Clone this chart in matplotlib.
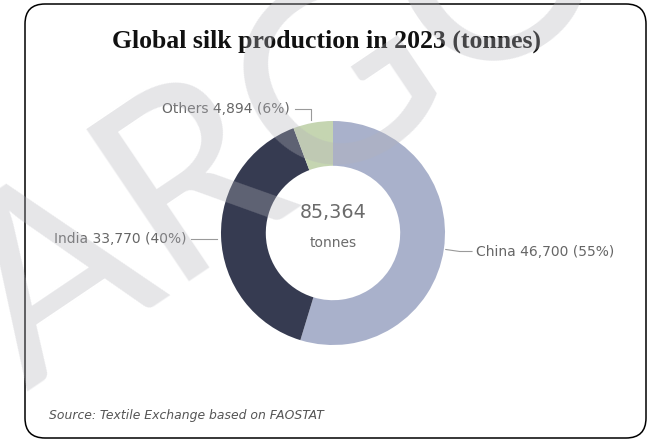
import numpy as np
import matplotlib
matplotlib.use("Agg")
import matplotlib.pyplot as plt
from matplotlib.patches import FancyBboxPatch

W, H = 649, 440

countries = ["China", "India", "Others"]
tonnes = [46700, 33770, 4894]
colors = ["#a9b1cb", "#363b51", "#c5d5b1"]
title = "Global silk production in 2023 (tonnes)"
source = "Source: Textile Exchange based on FAOSTAT"

total = sum(tonnes)
shares = [round(100 * v / total) for v in tonnes]


def py(y):
    # pixel from top -> data y
    return H - y


fig = plt.figure(figsize=(W / 100, H / 100), dpi=100)
fig.patch.set_facecolor("white")
ax = fig.add_axes([0, 0, 1, 1])

cx, cy, R = 333, 233, 112
wedges, _ = ax.pie(tonnes, colors=colors, startangle=90, counterclock=False,
                   radius=R, center=(cx, py(cy)),
                   wedgeprops=dict(width=R * 0.4, linewidth=0))
ax.set_xlim(0, W)
ax.set_ylim(0, H)
ax.set_aspect("equal")
ax.axis("off")

# rounded frame
ax.add_patch(FancyBboxPatch((25 + 20, py(438) + 20), 621 - 40, 434 - 40,
                            boxstyle="round,pad=20", fc="none", ec="black", lw=1.1, zorder=1))

ax.text(326, py(41), title, ha="center", va="center", fontsize=18.5,
        fontweight="bold", family="Liberation Serif", color="#111111")

# labels with leader lines
label_color = "#666666"
line_color = "#9a9a9a"
for w, name, val, pct in zip(wedges, countries, tonnes, shares):
    ang = np.deg2rad((w.theta1 + w.theta2) / 2)
    x0 = cx + R * np.cos(ang)
    y0 = py(cy) + R * np.sin(ang)
    txt = f"{name} {val:,} ({pct}%)"
    if name == "China":
        ax.plot([x0 + 2, x0 + 16, 472], [y0, y0 - 2, y0 - 2], color=line_color, lw=0.8)
        ax.text(476, y0 - 2, txt, ha="left", va="center", fontsize=10, color=label_color)
    elif name == "India":
        ax.plot([x0 - 4, 191], [y0 - 2, y0 - 2], color=line_color, lw=0.8)
        ax.text(187, y0 - 2, txt, ha="right", va="center", fontsize=10, color=label_color)
    else:
        ax.plot([x0 - 2, x0 - 2, 295], [y0 + 3, y0 + 14, y0 + 14], color=line_color, lw=0.8)
        ax.text(290, y0 + 14, txt, ha="right", va="center", fontsize=10, color=label_color)

ax.text(cx, py(212), f"{total:,}", ha="center", va="center", fontsize=13.8, color="#6b6b6b")
ax.text(cx, py(243), "tonnes", ha="center", va="center", fontsize=10, color="#6b6b6b")

ax.text(49, py(415), source, ha="left", va="center", fontsize=8.9, style="italic",
        color="#555555")

# watermark
fig.text(328 / W, 1 - 188 / H, "ARGO", ha="center", va="baseline", rotation=34,
         rotation_mode="anchor", fontsize=185, family="Lato",
         color=(0.70, 0.70, 0.73), alpha=0.33, zorder=10)

fig.savefig("out.png", dpi=100)
